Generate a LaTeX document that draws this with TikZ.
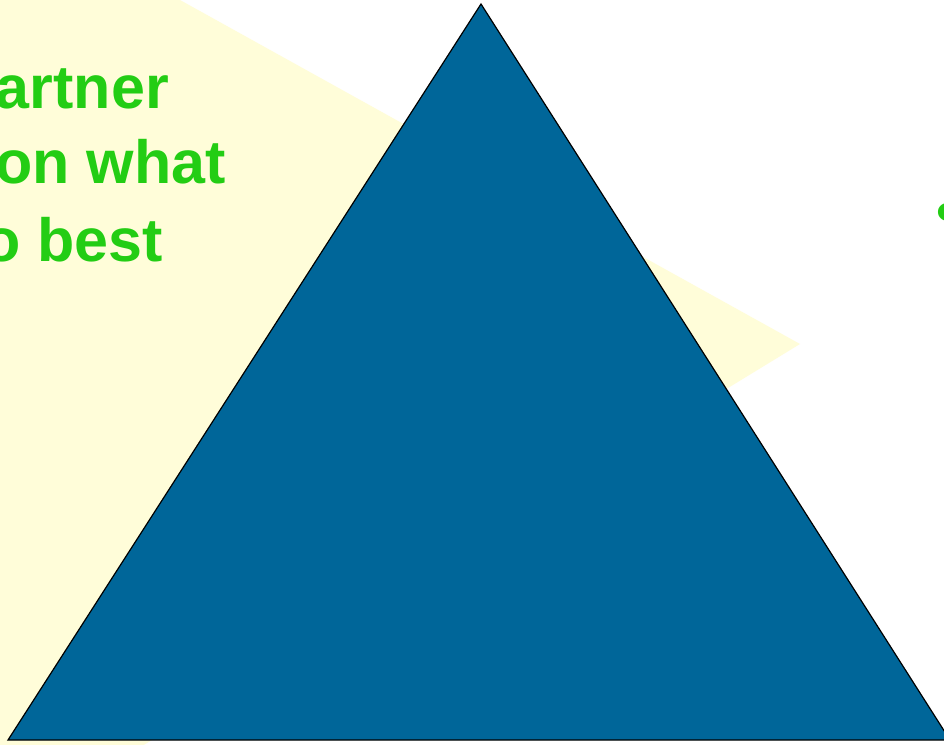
\documentclass[tikz,border=0pt]{standalone}
\usepackage{fontspec}
\setmainfont{Liberation Sans}
\definecolor{cream}{RGB}{255,253,217}
\definecolor{slideblue}{RGB}{0,102,153}
\definecolor{slidegreen}{RGB}{35,205,20}
\begin{document}
\begin{tikzpicture}[x=1pt,y=-1pt,
  slidetext/.style={text=slidegreen, font=\fontsize{61}{74}\selectfont\bfseries, inner sep=0pt}]
\useasboundingbox (0,0) rectangle (944,744);
\clip (0,0) rectangle (944,744);
\fill[white] (0,0) rectangle (944,744);
\fill[cream] (-10,-10) -- (162,-10) -- (800,344) -- (-10,839) -- cycle;
\node[slidetext, anchor=base east] (line1) at (169,108) {artner};
\node[slidetext, anchor=base east] (line2) at (226,183) {on what};
\node[slidetext, anchor=base east] (line3) at (163,261) {o best};
\node[slidetext, anchor=base] (dot) at (947,232) {\textbullet};
\coordinate (apex) at (481,4);
\coordinate (baseleft) at (8,740);
\coordinate (baseright) at (950,740);
\filldraw[fill=slideblue, draw=black, line width=1.2pt] (apex) -- (baseleft) -- (baseright) -- cycle;
\end{tikzpicture}
\end{document}
